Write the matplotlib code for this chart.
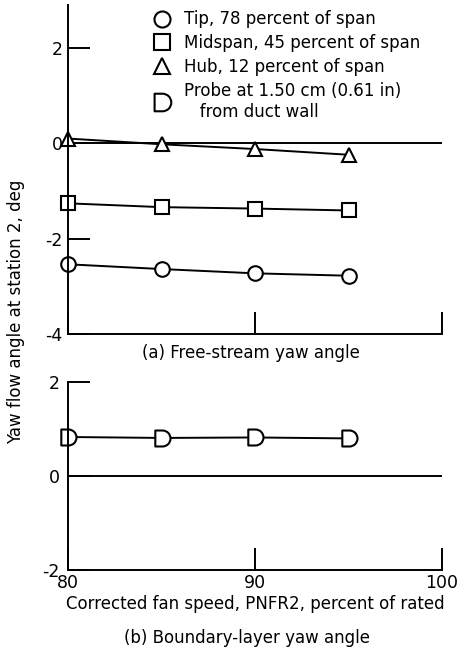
import numpy as np
import matplotlib
matplotlib.use('Agg')
import matplotlib.pyplot as plt
from matplotlib.path import Path

plt.rcParams['font.family'] = ['Liberation Sans Narrow', 'DejaVu Sans']
plt.rcParams['axes.unicode_minus'] = False

# fan speed, percent of rated
speed = [80, 85, 90, 95]
# free-stream yaw angle, deg
tip = [-2.54, -2.64, -2.73, -2.78]
midspan = [-1.26, -1.34, -1.37, -1.41]
hub = [0.10, -0.02, -0.12, -0.24]
# boundary-layer yaw angle, deg
probe = [0.83, 0.81, 0.82, 0.80]

labels = ['Tip, 78 percent of span',
          'Midspan, 45 percent of span',
          'Hub, 12 percent of span',
          'Probe at 1.50 cm (0.61 in)\n   from duct wall']

# D shaped marker: flat left side, round right side
arc = Path.arc(-90, 90)
verts = np.vstack([[-0.9, -1.0], arc.vertices, [-0.9, 1.0], [-0.9, -1.0]])
codes = np.concatenate([[Path.MOVETO], arc.codes, [Path.LINETO, Path.CLOSEPOLY]])
codes[1] = Path.LINETO
dmark = Path(verts, codes)

fig = plt.figure(figsize=(4.6, 6.52), dpi=100)
ax1 = fig.add_axes([0.148, 0.488, 0.813, 0.504])
ax2 = fig.add_axes([0.148, 0.126, 0.813, 0.288])

style = dict(color='black', lw=1.4, mfc='white', mec='black', mew=1.5, clip_on=False)
h1, = ax1.plot(speed, tip, marker='o', ms=10.5, **style)
h2, = ax1.plot(speed, midspan, marker='s', ms=10, **style)
h3, = ax1.plot(speed, hub, marker='^', ms=10.5, **style)
h4, = ax2.plot(speed, probe, marker=dmark, ms=11.5, **style)

for ax in (ax1, ax2):
    ax.axhline(0, color='black', lw=1.4, zorder=1)
    ax.set_xlim(80, 100)
    ax.set_xticks([80, 90, 100])
    ax.spines['top'].set_visible(False)
    ax.spines['right'].set_visible(False)
    ax.spines['left'].set_linewidth(1.4)
    ax.spines['bottom'].set_linewidth(1.4)
    ax.tick_params(direction='in', length=16, width=1.4, labelsize=12.5, pad=4)

ax1.set_ylim(-4, 2.9)
ax1.set_yticks([-4, -2, 0, 2])
ax1.set_xticklabels([])
ax2.set_ylim(-2, 2)
ax2.set_yticks([-2, 0, 2])
ax2.tick_params(axis='y', pad=6)
ax2.tick_params(axis='x', pad=3)

lg = ax1.legend([h1, h2, h3, h4], labels, loc='upper left',
                bbox_to_anchor=(0.19, 1.03), frameon=False, fontsize=12,
                handlelength=1.0, handletextpad=0.8, labelspacing=0.35,
                markerscale=1.1)
for line in lg.get_lines():
    line.set_linestyle('none')

fig.text(0.545, 0.459, '(a) Free-stream yaw angle', ha='center', va='center', fontsize=12)
ax2.set_xlabel('Corrected fan speed, PNFR2, percent of rated', fontsize=12, labelpad=2)
fig.text(0.537, 0.022, '(b) Boundary-layer yaw angle', ha='center', va='center', fontsize=12)
fig.text(0.035, 0.521, 'Yaw flow angle at station 2, deg', rotation=90,
         ha='center', va='center', fontsize=12)

fig.savefig('out.png', dpi=100)
